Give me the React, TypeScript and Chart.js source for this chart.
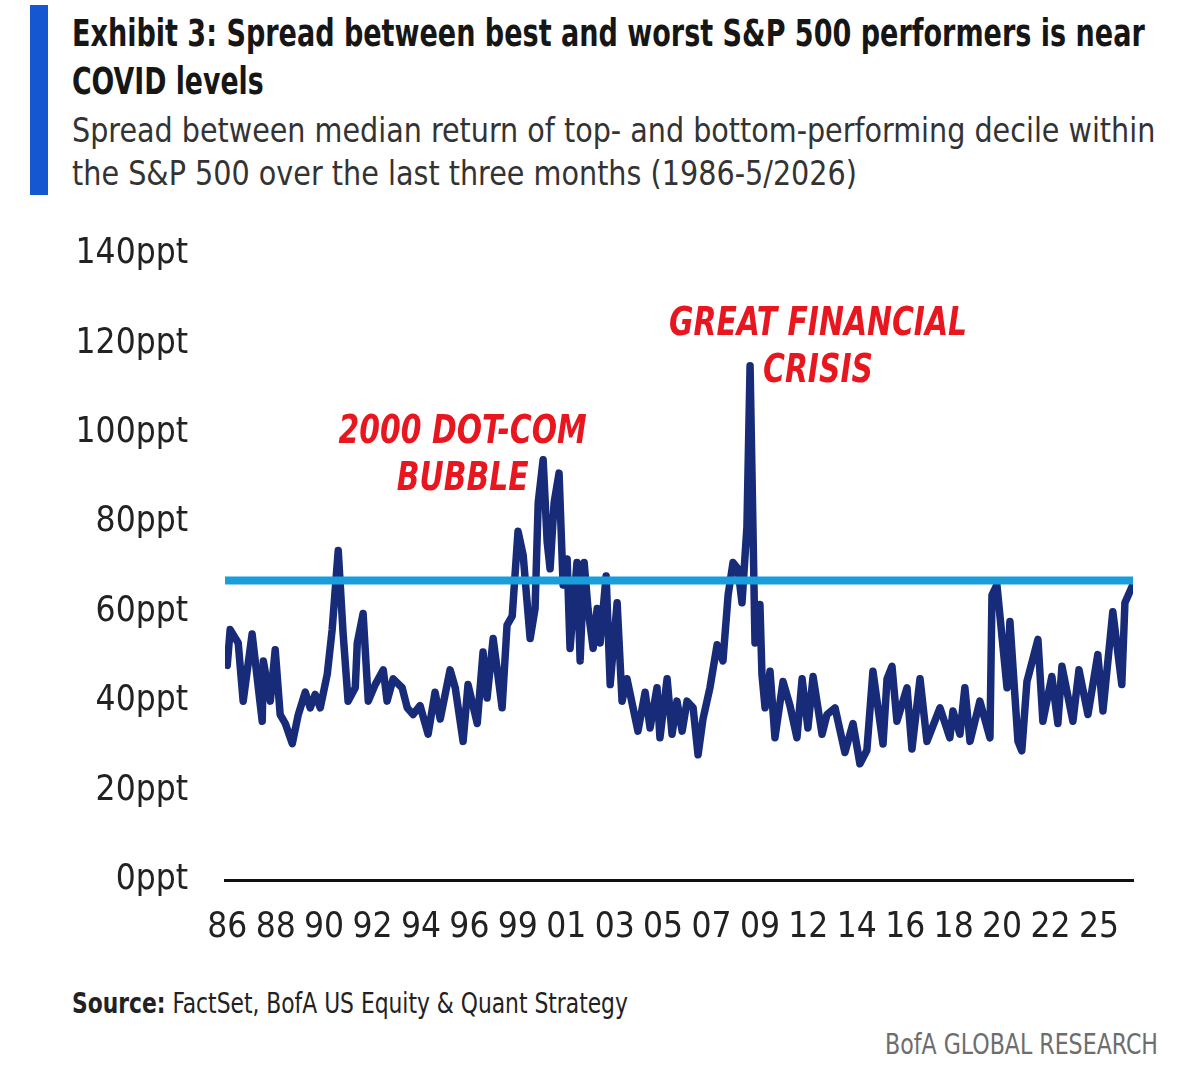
import React, { useRef, useEffect, useLayoutEffect } from 'react';
import { Chart, registerables } from 'chart.js';

Chart.register(...registerables);

const years = [
    1986.00, 1986.13, 1986.49, 1986.71, 1987.11, 1987.56, 1987.61, 1987.92, 1988.14, 1988.36,
    1988.59, 1988.90, 1989.17, 1989.48, 1989.70, 1989.92, 1990.15, 1990.46, 1990.68, 1990.95,
    1991.17, 1991.39, 1991.71, 1991.80, 1992.06, 1992.29, 1992.60, 1992.96, 1993.13, 1993.40,
    1993.80, 1994.03, 1994.29, 1994.60, 1994.96, 1995.27, 1995.50, 1995.94, 1996.17, 1996.52,
    1996.74, 1997.15, 1997.41, 1997.59, 1997.86, 1998.26, 1998.48, 1998.71, 1998.97, 1999.20,
    1999.51, 1999.73, 1999.87, 2000.09, 2000.27, 2000.40, 2000.58, 2000.80, 2000.98, 2001.16,
    2001.29, 2001.60, 2001.74, 2001.92, 2002.09, 2002.32, 2002.50, 2002.63, 2002.90, 2003.08,
    2003.39, 2003.61, 2003.83, 2004.10, 2004.32, 2004.64, 2004.86, 2005.17, 2005.30, 2005.62,
    2005.84, 2006.06, 2006.29, 2006.51, 2006.78, 2007.00, 2007.22, 2007.53, 2007.85, 2008.11,
    2008.34, 2008.56, 2008.78, 2008.96, 2009.18, 2009.32, 2009.54, 2009.76, 2009.85, 2009.99,
    2010.21, 2010.43, 2010.79, 2011.10, 2011.41, 2011.64, 2011.90, 2012.13, 2012.53, 2012.75,
    2013.11, 2013.55, 2013.91, 2014.22, 2014.53, 2014.80, 2015.25, 2015.43, 2015.65, 2015.87,
    2016.32, 2016.54, 2016.90, 2017.21, 2017.79, 2018.23, 2018.37, 2018.68, 2018.90, 2019.13,
    2019.57, 2020.02, 2020.11, 2020.33, 2020.78, 2020.91, 2021.27, 2021.44, 2021.67, 2022.16,
    2022.38, 2022.78, 2023.05, 2023.23, 2023.72, 2023.99, 2024.39, 2024.83, 2025.06, 2025.50,
    2025.90, 2026.04, 2026.39,
];

// spread between top and bottom decile, ppt
const spread = [
    48, 56, 53, 40, 55, 35.5, 49, 40, 51.5, 37,
    35, 30.5, 37, 42, 38.5, 41.5, 38.5, 46, 56, 73.7,
    55, 40, 43, 53, 59.6, 40, 43.7, 47, 40, 45,
    43, 38.5, 37, 39, 32.6, 42, 36, 47, 43, 31,
    43.7, 35, 51, 40.7, 54, 38.5, 57, 59, 78, 72.6,
    54, 60.7, 84.4, 94, 75.6, 69.6, 84.4, 91, 66, 71.8,
    51.8, 71, 49, 71, 60.7, 51.8, 60.7, 53, 68, 43.7,
    62, 40, 45, 38.5, 33.3, 42, 34, 43, 31.8, 45,
    32.6, 40, 33.3, 40, 38.5, 28, 36, 43, 52.6, 49,
    63.7, 71, 69.6, 62, 79, 115, 53, 61.6, 46, 38.5,
    46.7, 31.8, 44.4, 39, 31.8, 45, 34, 45.5, 32.6, 37,
    38.5, 28.5, 35, 26, 29, 46.7, 30.4, 45, 47.8, 35.5,
    43, 29.3, 45, 31, 38.5, 31.8, 37.8, 32.6, 43, 31,
    40, 31.8, 63.7, 66, 43, 57.8, 31, 28.9, 44.4, 53.8,
    35.5, 45.5, 35, 47.8, 35.5, 47, 37, 50.4, 37.8, 60,
    43.7, 62, 66,
];

const covidLevel = 67;
const startYear = 1985.9;
const endYear = 2026.4;

const xTickLabels = ['86', '88', '90', '92', '94', '96', '99', '01', '03', '05', '07', '09', '12', '14', '16', '18', '20', '22', '25'];
const xTickStep = 2.16;

const notes = [
    { lines: ['2000 DOT-COM', 'BUBBLE'], x: 1996.5, y: 100 },
    { lines: ['GREAT FINANCIAL', 'CRISIS'], x: 2012.35, y: 124.2 },
];

const FONT = '"DejaVu Sans Condensed", "DejaVu Sans", sans-serif';

const notesPlugin = {
    id: 'notes',
    afterDatasetsDraw(chart: any) {
        const { ctx, scales } = chart;
        ctx.save();
        ctx.fillStyle = '#e8171f';
        ctx.font = `italic bold 39px ${FONT}`;
        ctx.textAlign = 'center';
        ctx.textBaseline = 'middle';
        notes.forEach(n => {
            const px = scales.x.getPixelForValue(n.x);
            const py = scales.y.getPixelForValue(n.y);
            n.lines.forEach((line, i) => {
                ctx.save();
                ctx.translate(px, py + i * 47);
                ctx.scale(0.85, 1);
                ctx.fillText(line, 0, 0);
                ctx.restore();
            });
        });
        ctx.restore();
    },
};

// squeezes a line of text horizontally so it spans the given width
const FitText: React.FC<{ left: number; top: number; width: number; style?: React.CSSProperties; children: React.ReactNode }> = ({ left, top, width, style, children }) => {
    const ref = useRef<HTMLDivElement | null>(null);
    useLayoutEffect(() => {
        const el = ref.current;
        if (!el) return;
        el.style.transform = 'none';
        const w = el.scrollWidth;
        if (w > 0) el.style.transform = `scaleX(${width / w})`;
    });
    return (
        <div ref={ref} style={{ position: 'absolute', left, top, whiteSpace: 'nowrap', transformOrigin: 'left top', ...style }}>
            {children}
        </div>
    );
};

const SpreadChart: React.FC = () => {
    const chartRef = useRef<HTMLCanvasElement | null>(null);
    const chartInstanceRef = useRef<Chart | null>(null);

    useEffect(() => {
        if (!chartRef.current) return;
        const ctx = chartRef.current.getContext('2d');
        if (!ctx) return;

        chartInstanceRef.current = new Chart(ctx, {
            type: 'line',
            data: {
                datasets: [
                    {
                        // COVID level, drawn on top
                        data: [{ x: startYear, y: covidLevel }, { x: endYear, y: covidLevel }],
                        borderColor: '#1a9ddb',
                        borderWidth: 8,
                        pointRadius: 0,
                    },
                    {
                        data: years.map((y, i) => ({ x: y, y: spread[i] })),
                        borderColor: '#172b78',
                        borderWidth: 7.5,
                        pointRadius: 0,
                        tension: 0,
                        borderJoinStyle: 'round',
                        borderCapStyle: 'round',
                    },
                ],
            },
            options: {
                responsive: false,
                animation: false,
                layout: { padding: { top: 43, right: 67, left: 0, bottom: 0 } },
                plugins: {
                    legend: { display: false },
                    tooltip: { enabled: false },
                },
                scales: {
                    x: {
                        type: 'linear',
                        min: startYear,
                        max: endYear,
                        grid: { display: false },
                        border: { display: true, color: '#111', width: 3 },
                        afterFit: (scale: any) => { scale.height = 104; },
                        afterBuildTicks: (scale: any) => {
                            scale.ticks = xTickLabels.map((_, i) => ({ value: 1986 + i * xTickStep }));
                        },
                        ticks: {
                            autoSkip: false,
                            maxRotation: 0,
                            padding: 19,
                            color: '#222',
                            font: { family: FONT, size: 35 },
                            callback: (_v: any, i: number) => xTickLabels[i],
                        },
                    },
                    y: {
                        min: 0,
                        max: 140,
                        grid: { display: false },
                        border: { display: false },
                        afterFit: (scale: any) => { scale.width = 225; },
                        ticks: {
                            stepSize: 20,
                            padding: 29,
                            color: '#222',
                            font: { family: FONT, size: 35 },
                            callback: (v: any) => `${v}ppt`,
                        },
                    },
                },
            },
            plugins: [notesPlugin],
        });

        return () => {
            if (chartInstanceRef.current) {
                chartInstanceRef.current.destroy();
            }
        };
    }, []);

    return <canvas ref={chartRef} width={1200} height={780} style={{ width: 1200, height: 780 }} />;
};

export default function App() {
    return (
        <div style={{ position: 'absolute', left: 0, top: 0, width: 1200, height: 1078, background: '#fff', fontFamily: FONT, overflow: 'hidden' }}>
            <div style={{ position: 'absolute', left: 30, top: 5, width: 18, height: 190, background: '#1557d0' }} />
            <FitText left={72} top={12} width={1073} style={{ fontSize: 37, lineHeight: '44px', fontWeight: 'bold', color: '#161616' }}>
                Exhibit 3: Spread between best and worst S&amp;P 500 performers is near
            </FitText>
            <FitText left={72} top={60} width={192} style={{ fontSize: 37, lineHeight: '44px', fontWeight: 'bold', color: '#161616' }}>
                COVID levels
            </FitText>
            <FitText left={72} top={110} width={1083} style={{ fontSize: 34, lineHeight: '40px', color: '#333' }}>
                Spread between median return of top- and bottom-performing decile within
            </FitText>
            <FitText left={72} top={153} width={785} style={{ fontSize: 34, lineHeight: '40px', color: '#333' }}>
                the S&amp;P 500 over the last three months (1986-5/2026)
            </FitText>
            <div style={{ position: 'absolute', left: 0, top: 204 }}>
                <SpreadChart />
            </div>
            <FitText left={72} top={988} width={556} style={{ fontSize: 28, lineHeight: '32px', color: '#222' }}>
                <b>Source:</b> FactSet, BofA US Equity &amp; Quant Strategy
            </FitText>
            <FitText left={885} top={1028} width={273} style={{ fontSize: 29, lineHeight: '32px', color: '#6d6d6d' }}>
                BofA GLOBAL RESEARCH
            </FitText>
        </div>
    );
}
